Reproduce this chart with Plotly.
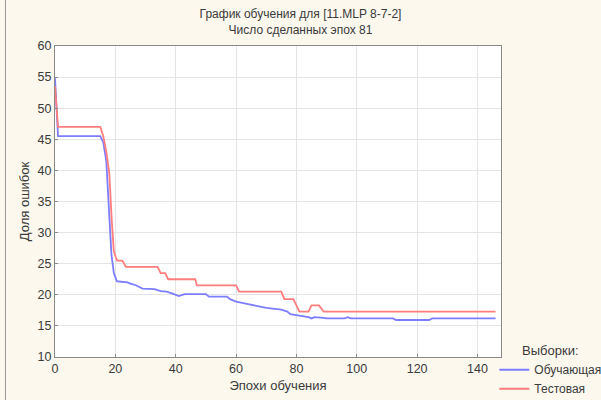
import plotly.graph_objects as go

# Training sample (blue) — epoch / error share breakpoints
train_epochs = [0, 1, 15, 16, 17, 18, 18.7, 19.5, 20.5, 22, 24, 25, 27, 29, 33, 35, 37, 39, 41, 43,
                50, 51, 57, 58, 60, 64, 67, 70, 75, 77, 78, 81, 84, 85, 86, 89, 90, 96, 97, 98,
                112, 113, 124, 125, 146]
train_error = [54.8, 45.5, 45.5, 44.5, 41.5, 33.0, 26.5, 23.5, 22.2, 22.1, 22.0, 21.8, 21.5, 21.0, 20.9, 20.6, 20.5, 20.2, 19.8, 20.1,
               20.1, 19.7, 19.7, 19.3, 18.9, 18.5, 18.2, 17.9, 17.6, 17.3, 16.9, 16.7, 16.4, 16.2, 16.4, 16.3, 16.2, 16.2, 16.4, 16.2,
               16.2, 15.95, 15.95, 16.2, 16.2]

# Test sample (red)
test_epochs = [0, 1, 15, 16, 17, 18, 18.8, 19.5, 20.2, 20.6, 22.3, 23.5, 34, 35, 36.5, 37.5, 46.5, 47,
               60, 61, 75, 76, 79, 81, 84, 85, 87.5, 89, 146]
test_error = [53.5, 47.0, 47.0, 45.5, 43.0, 39.5, 32.0, 27.0, 26.0, 25.5, 25.5, 24.5, 24.5, 23.5, 23.5, 22.5, 22.5, 21.5,
              21.5, 20.5, 20.5, 19.3, 19.3, 17.3, 17.3, 18.3, 18.3, 17.3, 17.3]

x_ticks = [0, 20, 40, 60, 80, 100, 120, 140]
y_ticks = [10, 15, 20, 25, 30, 35, 40, 45, 50, 55, 60]

title_lines = ["График обучения для [11.MLP 8-7-2]", "Число сделанных эпох 81"]
series_names = ["Обучающая", "Тестовая"]

FONT = "Liberation Sans, Arial, sans-serif"
TXT = "#3a3a3a"

fig = go.Figure()
fig.add_trace(go.Scatter(x=train_epochs, y=train_error, mode="lines", name=series_names[0],
                         line=dict(color="rgb(125,125,255)", width=1.8)))
fig.add_trace(go.Scatter(x=test_epochs, y=test_error, mode="lines", name=series_names[1],
                         line=dict(color="rgb(255,125,125)", width=1.8)))

fig.update_layout(
    width=601, height=400,
    margin=dict(l=55, r=100, t=46, b=43, autoexpand=False),
    paper_bgcolor="#FCF8EE",
    plot_bgcolor="#FFFFFF",
    font=dict(family=FONT, size=12, color=TXT),
    title=dict(text="<br>".join(title_lines), x=0.5, xanchor="center", y=0.955, yanchor="top",
               font=dict(family=FONT, size=12, color=TXT)),
    xaxis=dict(range=[0, 147.8], tickvals=x_ticks, showgrid=True, gridcolor="#E4E4E4", gridwidth=1,
               showline=True, linecolor="#8a8a8a", linewidth=1, mirror=True, zeroline=False,
               ticks="inside", ticklen=3, tickcolor="#8a8a8a",
               tickfont=dict(size=12.5, color=TXT),
               title=dict(text="Эпохи обучения", font=dict(size=13, color=TXT), standoff=5)),
    yaxis=dict(range=[10, 60], tickvals=y_ticks, showgrid=True, gridcolor="#E4E4E4", gridwidth=1,
               showline=True, linecolor="#8a8a8a", linewidth=1, mirror=True, zeroline=False,
               ticks="inside", ticklen=3, tickcolor="#8a8a8a",
               tickfont=dict(size=12.5, color=TXT),
               title=dict(text="Доля ошибок", font=dict(size=13, color=TXT), standoff=5)),
    legend=dict(x=0.985, y=0.06, xanchor="left", yanchor="top", bgcolor="rgba(0,0,0,0)",
                title=dict(text="Выборки:", side="top center", font=dict(size=13, color=TXT)),
                font=dict(size=12, color=TXT), tracegroupgap=0, itemwidth=30),
    shapes=[dict(type="line", xref="paper", yref="paper", x0=-0.111, x1=-0.111, y0=-0.14, y1=1.15,
                 line=dict(color="#9a9a9a", width=1))],
)

fig.write_html("out.html", config={"displayModeBar": False},
               post_script="document.body.style.margin='0';document.body.style.overflow='hidden';")
